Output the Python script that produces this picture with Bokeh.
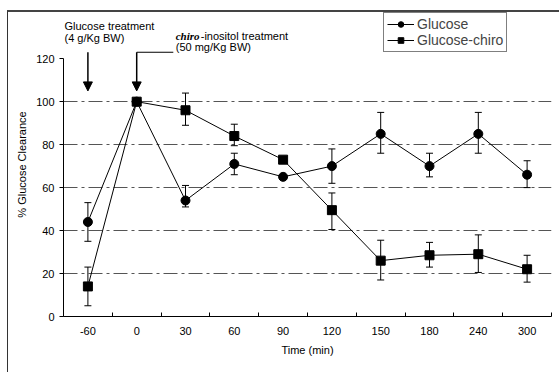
from bokeh.plotting import figure
from bokeh.models import (ColumnDataSource, Whisker, TeeHead, FixedTicker, Legend,
                          LegendItem, Label, Arrow, NormalHead, Range1d)
from bokeh.embed import file_html
from bokeh.resources import INLINE

# ---------------- data ----------------
time_labels = ["-60", "0", "30", "60", "90", "120", "150", "180", "240", "300"]
glucose    = [44, 100, 54, 71, 65, 70, 85, 70, 85, 66]
glucose_lo = [35, None, 51, 66, None, 62, 76, 65, 76, 60]
glucose_hi = [53, None, 61, 76, None, 78, 95, 76, 95, 72.5]
chiro      = [14, 100, 96, 84, 73, 49.5, 26, 28.5, 29, 22]
chiro_lo   = [5, None, 89, 79.5, None, 40.5, 17, 23, 20.5, 16]
chiro_hi   = [23, None, 104, 89.5, None, 57.5, 35.5, 34.5, 38, 28.5]
y_ticks = [0, 20, 40, 60, 80, 100, 120]
grid_values = [20, 40, 60, 80, 100]

# annotation anchors (data units; x = category index)
arrow_x = [0, 1]
arrow_top = [123, 123]
arrow_tip = [105, 105]
callout_end_x = 1.75
FONT = "Liberation Sans"

xs = list(range(len(time_labels)))

p = figure(width=552, height=362, x_range=Range1d(-0.5, 9.5), y_range=Range1d(0, 141.5),
           output_backend="svg", toolbar_location=None,
           min_border_left=55, min_border_right=9, min_border_top=0, min_border_bottom=58,
           margin=(10, 0, 0, 7))
p.styles = {"border-top": "2px solid #444", "border-left": "1px solid #333"}
p.outline_line_color = None
p.background_fill_color = "white"

# axes
p.yaxis.ticker = FixedTicker(ticks=y_ticks)
p.yaxis.bounds = (0, 120)
p.yaxis.major_tick_out = 4
p.yaxis.major_tick_in = 0
p.yaxis.minor_tick_out = 0
p.yaxis.axis_label = "% Glucose Clearance"

p.xaxis.ticker = FixedTicker(ticks=xs, minor_ticks=[i + 0.5 for i in range(-1, len(xs))])
p.xaxis.major_label_overrides = {i: lab for i, lab in enumerate(time_labels)}
p.xaxis.major_tick_in = 0
p.xaxis.major_tick_out = 0
p.xaxis.minor_tick_in = 4
p.xaxis.minor_tick_out = 0
p.xaxis.axis_label = "Time (min)"
p.xaxis.major_label_standoff = 10
p.xaxis.axis_label_standoff = 6

for ax in (p.xaxis, p.yaxis):
    ax.axis_line_color = "black"
    ax.major_tick_line_color = "black"
    ax.minor_tick_line_color = "black"
    ax.major_label_text_font = FONT
    ax.major_label_text_font_size = "11px"
    ax.major_label_text_color = "black"
    ax.axis_label_text_font = FONT
    ax.axis_label_text_font_size = "11px"
    ax.axis_label_text_font_style = "normal"
    ax.axis_label_text_color = "black"

p.xgrid.visible = False
p.ygrid.ticker = FixedTicker(ticks=grid_values)
p.ygrid.grid_line_color = "#555555"
p.ygrid.grid_line_dash = "14 4 3 4"
p.ygrid.grid_line_width = 1

# series
src_g = ColumnDataSource(dict(x=xs, y=glucose))
src_c = ColumnDataSource(dict(x=xs, y=chiro))

def err_source(lo, hi):
    ex, el, eh = [], [], []
    for x, l, h in zip(xs, lo, hi):
        if l is not None and h is not None:
            ex.append(x); el.append(l); eh.append(h)
    return ColumnDataSource(dict(x=ex, lower=el, upper=eh))

for lo, hi in ((glucose_lo, glucose_hi), (chiro_lo, chiro_hi)):
    w = Whisker(source=err_source(lo, hi), base="x", lower="lower", upper="upper",
                line_color="black", line_width=1,
                upper_head=TeeHead(size=7, line_color="black", line_width=1),
                lower_head=TeeHead(size=7, line_color="black", line_width=1))
    p.add_layout(w)

lg = p.line("x", "y", source=src_g, line_color="black", line_width=1)
mg = p.scatter("x", "y", source=src_g, marker="circle", size=9, color="black")
lc = p.line("x", "y", source=src_c, line_color="black", line_width=1)
mc = p.scatter("x", "y", source=src_c, marker="square", size=9, color="black")

legend = Legend(items=[LegendItem(label="Glucose", renderers=[lg, mg]),
                       LegendItem(label="Glucose-chiro", renderers=[lc, mc])],
                location=(320, 264))
legend.border_line_color = "black"
legend.border_line_width = 1
legend.label_text_font = FONT
legend.label_text_font_size = "14px"
legend.glyph_width = 27
legend.glyph_height = 14
legend.label_height = 14
legend.label_standoff = 3
legend.padding = 3
legend.spacing = 0
legend.margin = 0
legend.background_fill_alpha = 1
p.add_layout(legend)

# annotations
for ax_, top, tip in zip(arrow_x, arrow_top, arrow_tip):
    p.add_layout(Arrow(x_start=ax_, y_start=top, x_end=ax_, y_end=tip, line_width=1.5,
                       end=NormalHead(size=9, fill_color="black", line_color="black")))
p.segment(x0=[arrow_x[1]], y0=[arrow_top[1]], x1=[callout_end_x], y1=[arrow_top[1]],
          line_color="black", line_width=1.2)

def lab(x, y, text, font=FONT, style="normal", x_offset=0):
    p.add_layout(Label(x=x, y=y, text=text, text_font=font, text_font_style=style,
                       text_font_size="11px", text_baseline="middle", text_align="left",
                       x_offset=x_offset, text_color="black"))

lab(-0.5, 135, "Glucose treatment", x_offset=1)
lab(-0.5, 129.5, "(4 g/Kg BW)", x_offset=1)
lab(1.8, 130.5, "chiro", font="Liberation Serif", style="bold italic")
lab(1.8, 130.5, "-inositol treatment", x_offset=25)
lab(1.8, 125.5, "(50 mg/Kg BW)")

open("out.html", "w").write(file_html(p, INLINE))
